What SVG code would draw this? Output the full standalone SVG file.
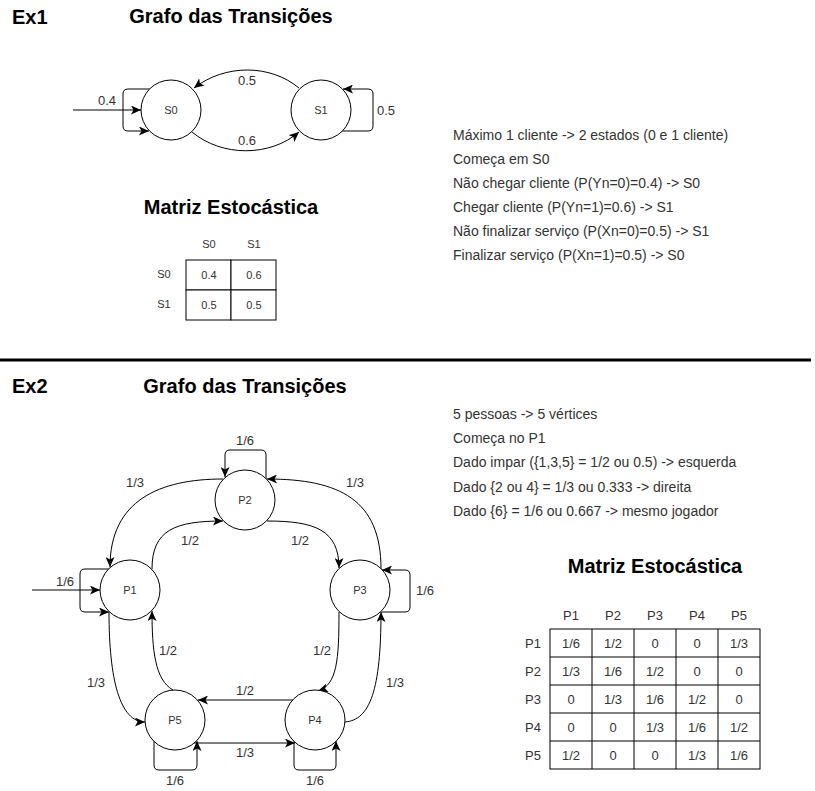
<svg xmlns="http://www.w3.org/2000/svg" width="815" height="791" viewBox="0 0 815 791">
<style>
text{font-family:"Liberation Sans",Arial,sans-serif;fill:#333}
.h{font-weight:bold;font-size:20px;fill:#000}
.t{font-size:14px}
.lb{font-size:13px;text-anchor:middle}
.nl{font-size:11px;text-anchor:middle}
.ml{font-size:11px;text-anchor:middle}
.m2{font-size:13px;text-anchor:middle}
.node{fill:#fff;stroke:#000;stroke-width:1}
.e{fill:none;stroke:#000;stroke-width:1;marker-end:url(#arr)}
.cell{fill:#fff;stroke:#000;stroke-width:1}
</style>
<defs>
<marker id="arr" markerUnits="userSpaceOnUse" markerWidth="11" markerHeight="9" refX="10" refY="4.5" orient="auto">
<path d="M0,0 L10,4.5 L0,9 L2.5,4.5 z" fill="#000"/>
</marker>
</defs>
<rect width="815" height="791" fill="#fff"/>

<!-- Titles -->
<text class="h" x="12" y="24">Ex1</text>
<text class="h" x="231" y="23" text-anchor="middle">Grafo das Transições</text>
<text class="h" x="231" y="214" text-anchor="middle">Matriz Estocástica</text>
<line x1="0" y1="360" x2="811" y2="360" stroke="#000" stroke-width="3"/>
<text class="h" x="12" y="393">Ex2</text>
<text class="h" x="245" y="393" text-anchor="middle">Grafo das Transições</text>
<text class="h" x="655" y="573" text-anchor="middle">Matriz Estocástica</text>

<!-- Ex1 notes -->
<g id="notes1">
<text class="t" x="453" y="140">Máximo 1 cliente -&gt; 2 estados (0 e 1 cliente)</text>
<text class="t" x="453" y="164">Começa em S0</text>
<text class="t" x="453" y="188">Não chegar cliente (P(Yn=0)=0.4) -&gt; S0</text>
<text class="t" x="453" y="212">Chegar cliente (P(Yn=1)=0.6) -&gt; S1</text>
<text class="t" x="453" y="236">Não finalizar serviço (P(Xn=0)=0.5) -&gt; S1</text>
<text class="t" x="453" y="260">Finalizar serviço (P(Xn=1)=0.5) -&gt; S0</text>
</g>

<!-- Ex2 notes -->
<g id="notes2">
<text class="t" x="453" y="419">5 pessoas -&gt; 5 vértices</text>
<text class="t" x="453" y="443">Começa no P1</text>
<text class="t" x="453" y="467">Dado impar ({1,3,5} = 1/2 ou 0.5) -&gt; esquerda</text>
<text class="t" x="453" y="492">Dado {2 ou 4} = 1/3 ou 0.333 -&gt; direita</text>
<text class="t" x="453" y="516">Dado {6} = 1/6 ou 0.667 -&gt; mesmo jogador</text>
</g>

<!-- Connectors -->
<g id="connectors">
<!-- Ex1 -->
<path class="e" d="M73 110 L141 110"/>
<path class="e" d="M150 89 L128 89 Q123 89 123 94 L123 126 Q123 131 128 131 L149 131"/>
<path class="e" d="M342 131 L368 131 Q373 131 373 126 L373 94 Q373 89 368 89 L343 89"/>
<path class="e" d="M299 88 C270 64 225 64 194 88"/>
<path class="e" d="M192 132 C222 157 270 157 299 132"/>
<!-- Ex2 -->
<path class="e" d="M32 590 L100 590"/>
<path class="e" d="M266 479 L266 455 Q266 450 261 450 L230 450 Q225 450 225 455 L225 477"/>
<path class="e" d="M223 479 C160 479 110 500 110 567"/>
<path class="e" d="M381 569 C381 500 340 479 267 479"/>
<path class="e" d="M152 569 C152 530 175 521 223 521"/>
<path class="e" d="M267 521 C315 521 339 530 339 568"/>
<path class="e" d="M109 569 L85 569 Q80 569 80 574 L80 607 Q80 612 85 612 L109 612"/>
<path class="e" d="M381 612 L405 612 Q410 612 410 607 L410 575 Q410 570 405 570 L382 570"/>
<path class="e" d="M109 612 C109 680 120 722 145 722"/>
<path class="e" d="M173 690 C155 680 152 650 152 611"/>
<path class="e" d="M339 612 C339 660 337 685 318 691"/>
<path class="e" d="M345 722 C370 720 381 690 381 612"/>
<path class="e" d="M293 700 L198 700"/>
<path class="e" d="M194 743 L295 743"/>
<path class="e" d="M154 741 L154 765 Q154 770 159 770 L192 770 Q197 770 197 765 L197 741"/>
<path class="e" d="M294 741 L294 765 Q294 770 299 770 L331 770 Q336 770 336 765 L336 741"/>
</g>

<!-- Edge labels -->
<g id="edge-labels">
<text class="lb" x="107" y="105">0.4</text>
<text class="lb" x="247" y="85">0.5</text>
<text class="lb" x="247" y="145">0.6</text>
<text class="lb" x="386" y="115">0.5</text>
<text class="lb" x="65" y="586">1/6</text>
<text class="lb" x="245" y="445">1/6</text>
<text class="lb" x="135" y="487">1/3</text>
<text class="lb" x="355" y="487">1/3</text>
<text class="lb" x="190" y="545">1/2</text>
<text class="lb" x="300" y="545">1/2</text>
<text class="lb" x="425" y="595">1/6</text>
<text class="lb" x="96" y="687">1/3</text>
<text class="lb" x="168" y="655">1/2</text>
<text class="lb" x="322" y="655">1/2</text>
<text class="lb" x="395" y="687">1/3</text>
<text class="lb" x="245" y="695">1/2</text>
<text class="lb" x="245" y="757">1/3</text>
<text class="lb" x="175" y="785">1/6</text>
<text class="lb" x="315" y="785">1/6</text>
</g>

<!-- Nodes Ex1 -->
<g id="S0"><circle class="node" cx="171" cy="110" r="30"/><text class="nl" x="171" y="114">S0</text></g>
<g id="S1"><circle class="node" cx="321" cy="110" r="30"/><text class="nl" x="321" y="114">S1</text></g>

<!-- Nodes Ex2 -->
<g id="P1"><circle class="node" cx="130" cy="590" r="30"/><text class="nl" x="130" y="594">P1</text></g>
<g id="P2"><circle class="node" cx="245" cy="500" r="30"/><text class="nl" x="245" y="504">P2</text></g>
<g id="P3"><circle class="node" cx="360" cy="590" r="30"/><text class="nl" x="360" y="594">P3</text></g>
<g id="P4"><circle class="node" cx="315" cy="720" r="30"/><text class="nl" x="315" y="724">P4</text></g>
<g id="P5"><circle class="node" cx="175" cy="720" r="30"/><text class="nl" x="175" y="724">P5</text></g>

<!-- Matrix Ex1 -->
<g id="matrix1">
<text class="ml" x="209" y="248">S0</text>
<text class="ml" x="254" y="248">S1</text>
<text class="ml" x="164" y="278">S0</text>
<text class="ml" x="164" y="308">S1</text>
<rect class="cell" x="186" y="260" width="45" height="30"/>
<rect class="cell" x="231" y="260" width="45" height="30"/>
<rect class="cell" x="186" y="290" width="45" height="30"/>
<rect class="cell" x="231" y="290" width="45" height="30"/>
<text class="ml" x="209" y="279">0.4</text>
<text class="ml" x="254" y="279">0.6</text>
<text class="ml" x="209" y="309">0.5</text>
<text class="ml" x="254" y="309">0.5</text>
</g>

<!-- Matrix Ex2 -->
<g id="matrix2">
<text class="m2" x="571" y="620">P1</text>
<text class="m2" x="613" y="620">P2</text>
<text class="m2" x="655" y="620">P3</text>
<text class="m2" x="697" y="620">P4</text>
<text class="m2" x="739" y="620">P5</text>
<text class="m2" x="533" y="648">P1</text>
<text class="m2" x="533" y="676">P2</text>
<text class="m2" x="533" y="704">P3</text>
<text class="m2" x="533" y="732">P4</text>
<text class="m2" x="533" y="760">P5</text>
<g fill="none" stroke="#000" stroke-width="1">
<rect x="550" y="629" width="210" height="140" fill="#fff"/>
<path d="M592 629V769M634 629V769M676 629V769M718 629V769M550 657H760M550 685H760M550 713H760M550 741H760"/>
</g>
<text class="m2" x="571" y="648">1/6</text><text class="m2" x="613" y="648">1/2</text><text class="m2" x="655" y="648">0</text><text class="m2" x="697" y="648">0</text><text class="m2" x="739" y="648">1/3</text>
<text class="m2" x="571" y="676">1/3</text><text class="m2" x="613" y="676">1/6</text><text class="m2" x="655" y="676">1/2</text><text class="m2" x="697" y="676">0</text><text class="m2" x="739" y="676">0</text>
<text class="m2" x="571" y="704">0</text><text class="m2" x="613" y="704">1/3</text><text class="m2" x="655" y="704">1/6</text><text class="m2" x="697" y="704">1/2</text><text class="m2" x="739" y="704">0</text>
<text class="m2" x="571" y="732">0</text><text class="m2" x="613" y="732">0</text><text class="m2" x="655" y="732">1/3</text><text class="m2" x="697" y="732">1/6</text><text class="m2" x="739" y="732">1/2</text>
<text class="m2" x="571" y="760">1/2</text><text class="m2" x="613" y="760">0</text><text class="m2" x="655" y="760">0</text><text class="m2" x="697" y="760">1/3</text><text class="m2" x="739" y="760">1/6</text>
</g>
</svg>
